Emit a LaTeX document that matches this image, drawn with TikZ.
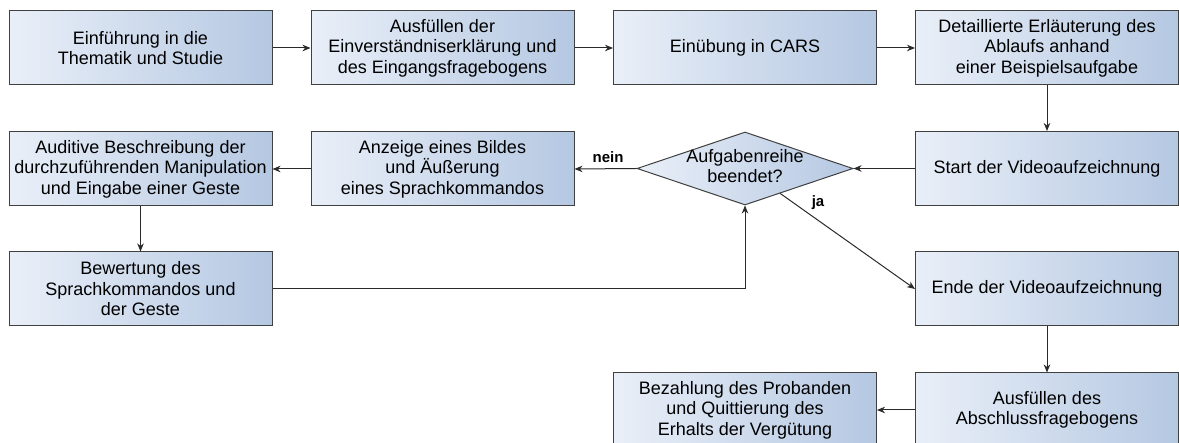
\documentclass[tikz,border=0pt]{standalone}
\usepackage{fontspec}
\setmainfont{Liberation Sans}
\usetikzlibrary{shapes.geometric,arrows.meta}
\definecolor{boxL}{HTML}{E9EFF8}
\definecolor{boxR}{HTML}{B5C8E2}
\definecolor{edge}{HTML}{404040}
\definecolor{conn}{HTML}{2A2A2A}
\begin{document}
\begin{tikzpicture}[x=1pt,y=-1pt,
  procbox/.style={draw=edge, line width=1pt, left color=boxL, right color=boxR,
    minimum width=263pt, minimum height=74pt, inner sep=0pt, align=center,
    font=\fontsize{18}{20.5}\selectfont},
  decbox/.style={draw=edge, line width=1pt, left color=boxL, right color=boxR,
    diamond, minimum width=216pt, minimum height=73pt, inner sep=0pt},
  dectext/.style={align=center, inner sep=0pt, font=\fontsize{18}{20.5}\selectfont},
  lbl/.style={font=\fontsize{15}{17}\selectfont\bfseries, inner sep=0pt},
  arr/.style={draw=conn, line width=1pt, -{Stealth[length=8pt,width=6.5pt,inset=2.5pt]}}]
\useasboundingbox (0,0) rectangle (1179,443);
% row 1
\node[procbox] (b1) at (140.5,48) {Einführung in die\\Thematik und Studie};
\node[procbox] (b2) at (442.5,48) {Ausfüllen der\\Einverständniserklärung und\\des Eingangsfragebogens};
\node[procbox] (b3) at (745,48) {Einübung in CARS};
\node[procbox] (b4) at (1047,48) {Detaillierte Erläuterung des\\Ablaufs anhand\\einer Beispielsaufgabe};
% row 2
\node[procbox] (aud) at (140.5,169) {Auditive Beschreibung der\\durchzuführenden Manipulation\\und Eingabe einer Geste};
\node[procbox] (anz) at (442.5,169) {Anzeige eines Bildes\\und Äußerung\\eines Sprachkommandos};
\node[decbox] (dia) at (745,168.5) {};
\node[dectext] (diat) at (745,166) {Aufgabenreihe\\beendet?};
\node[procbox] (start) at (1047,168.5) {Start der Videoaufzeichnung};
% row 3
\node[procbox] (bew) at (140.5,289) {Bewertung des\\Sprachkommandos und\\der Geste};
\node[procbox] (ende) at (1047,289) {Ende der Videoaufzeichnung};
% row 4
\node[procbox] (bez) at (745,410) {Bezahlung des Probanden\\und Quittierung des\\Erhalts der Vergütung};
\node[procbox] (abs) at (1047,410) {Ausfüllen des\\Abschlussfragebogens};
% labels
\node[lbl] (nein) at (608,157) {nein};
\node[lbl] (ja) at (818,203) {ja};
% connectors
\draw[arr] (b1) -- (b2);
\draw[arr] (b2) -- (b3);
\draw[arr] (b3) -- (b4);
\draw[arr] (b4) -- (start);
\draw[arr] (start) -- (dia.east);
\draw[arr] (dia.west) -- (anz.east);
\draw[arr] (anz) -- (aud);
\draw[arr] (aud) -- (bew);
\draw[arr] (bew.east) -| (dia.south);
\draw[arr] (dia) -- (ende.west);
\draw[arr] (ende) -- (abs);
\draw[arr] (abs) -- (bez);
\end{tikzpicture}
\end{document}
